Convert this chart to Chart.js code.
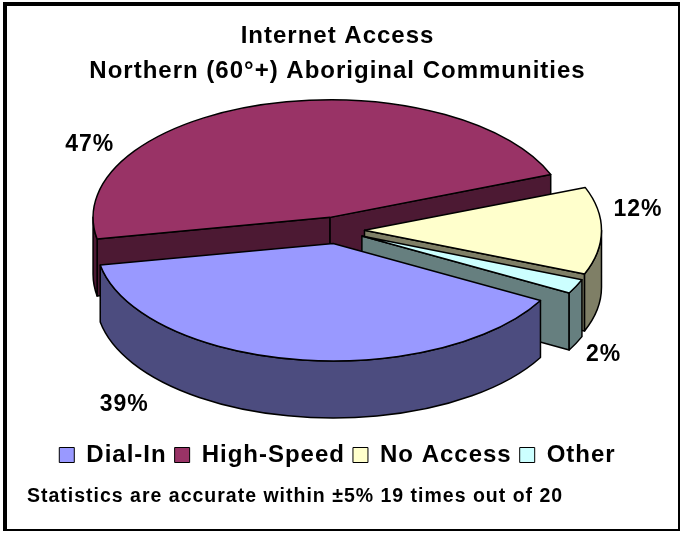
<!DOCTYPE html>
<html>
<head>
<meta charset="utf-8">
<script src="https://cdn.jsdelivr.net/npm/chart.js@4.4.0/dist/chart.umd.min.js"></script>
<style>
  body { margin: 0; background: #fff; }
  .marco {
    position: absolute;
    left: 3px;
    top: 2px;
    width: 671px;
    height: 523px;
    border-style: solid;
    border-color: #000;
    border-width: 4px 2px 2px 4px;
    background: #fff;
  }
</style>
</head>
<body>
<div class="marco"><canvas id="pieChart" width="671" height="523"></canvas></div>
<script>
const categories = ['Dial-In', 'High-Speed', 'No Access', 'Other'];
const shares = [39, 47, 12, 2];
const titleLines = ['Internet Access', 'Northern (60°+) Aboriginal Communities'];
const footnote = 'Statistics are accurate within ±5% 19 times out of 20';

const sliceColors = ['#9999FF', '#993366', '#FFFFCC', '#CCFFFF'];
// percent label spots: angle in degrees, distance as a multiple of the radius
const labelSpots = [[132, 1.345], [215, 1.276], [-8, 1.28], [27, 1.26]];

const FONT = "'Liberation Sans', Arial, sans-serif";
const DEPTH = 57;   // height of the pie walls
const TILT = 0.496; // vertical squash of the pie top

// side walls use the top colour at half brightness
function shade(hex) {
  const n = parseInt(hex.slice(1), 16);
  return `rgb(${(n >> 16) >> 1},${((n >> 8) & 255) >> 1},${(n & 255) >> 1})`;
}

const pie3d = {
  id: 'pie3d',
  beforeLayout(chart) { chart.ctx.letterSpacing = '1px'; },
  beforeDraw(chart) { chart.ctx.letterSpacing = '1px'; },
  beforeDatasetsDraw(chart) {
    const ctx = chart.ctx;
    const arcs = chart.getDatasetMeta(0).data;
    const cx = arcs[0].x;
    const cy = arcs[0].y - DEPTH / 2;
    const rx = arcs[0].outerRadius;
    const ry = rx * TILT;

    const slices = arcs.map(arc => {
      const mid = (arc.startAngle + arc.endAngle) / 2;
      const push = arc.options.offset;
      return {
        s: arc.startAngle,
        e: arc.endAngle,
        mid,
        vx: cx + Math.cos(mid) * push,
        vy: cy + Math.sin(mid) * push * TILT,
        top: arc.options.backgroundColor,
        side: shade(arc.options.backgroundColor)
      };
    });

    const pt = (sl, a) => [sl.vx + Math.cos(a) * rx, sl.vy + Math.sin(a) * ry];

    ctx.save();
    ctx.lineWidth = 1.5;
    ctx.strokeStyle = '#000';
    ctx.lineJoin = 'round';

    // back slices first
    slices.slice().sort((a, b) => Math.sin(a.mid) - Math.sin(b.mid)).forEach(sl => {
      ctx.fillStyle = sl.side;

      // cut faces that face the viewer
      [[sl.s, Math.cos(sl.s) < 0], [sl.e, Math.cos(sl.e) > 0]].forEach(([a, visible]) => {
        if (!visible) return;
        const [px, py] = pt(sl, a);
        ctx.beginPath();
        ctx.moveTo(sl.vx, sl.vy);
        ctx.lineTo(px, py);
        ctx.lineTo(px, py + DEPTH);
        ctx.lineTo(sl.vx, sl.vy + DEPTH);
        ctx.closePath();
        ctx.fill();
        ctx.stroke();
      });

      // outer wall, front half only
      for (let k = -1; k <= 2; k++) {
        const lo = Math.max(sl.s, 2 * Math.PI * k);
        const hi = Math.min(sl.e, 2 * Math.PI * k + Math.PI);
        if (hi <= lo) continue;
        const [x0, y0] = pt(sl, lo);
        ctx.beginPath();
        ctx.moveTo(x0, y0);
        ctx.ellipse(sl.vx, sl.vy, rx, ry, 0, lo, hi);
        ctx.ellipse(sl.vx, sl.vy + DEPTH, rx, ry, 0, hi, lo, true);
        ctx.closePath();
        ctx.fill();
        ctx.stroke();
      }

      // top face
      ctx.fillStyle = sl.top;
      ctx.beginPath();
      ctx.moveTo(sl.vx, sl.vy);
      ctx.ellipse(sl.vx, sl.vy, rx, ry, 0, sl.s, sl.e);
      ctx.closePath();
      ctx.fill();
      ctx.stroke();
    });

    // percent labels
    ctx.font = `bold 23px ${FONT}`;
    ctx.fillStyle = '#000';
    ctx.textAlign = 'center';
    ctx.textBaseline = 'middle';
    slices.forEach((sl, i) => {
      const [deg, k] = labelSpots[i];
      const a = deg * Math.PI / 180;
      const x = cx + Math.cos(a) * rx * k;
      const y = cy + Math.sin(a) * ry * k + (Math.sin(a) > 0 ? DEPTH : 0);
      ctx.fillText(shares[i] + '%', x, y);
    });

    ctx.restore();
    return false;
  }
};

new Chart(document.getElementById('pieChart'), {
  type: 'pie',
  data: {
    labels: categories,
    datasets: [{
      data: shares,
      backgroundColor: sliceColors,
      borderColor: '#000',
      borderWidth: 1,
      offset: 27,
      radius: 237,
      rotation: 119
    }]
  },
  options: {
    responsive: false,
    animation: false,
    devicePixelRatio: 1,
    events: [],
    layout: { padding: { left: 20, right: 30 } },
    plugins: {
      title: {
        display: true,
        text: titleLines,
        color: '#000',
        font: { family: FONT, size: 24, weight: 'bold', lineHeight: 1.458 },
        padding: { top: 12.5, bottom: -6 }
      },
      subtitle: {
        display: true,
        position: 'bottom',
        align: 'start',
        text: footnote,
        color: '#000',
        font: { family: FONT, size: 19.5, weight: 'bold', lineHeight: 1.2 },
        padding: { top: 8.3, bottom: 20.3 }
      },
      legend: {
        position: 'bottom',
        labels: {
          boxWidth: 15,
          boxHeight: 15,
          padding: 8,
          color: '#000',
          font: { family: FONT, size: 24, weight: 'bold' }
        }
      },
      tooltip: { enabled: false }
    }
  },
  plugins: [pie3d]
});
</script>
</body>
</html>
